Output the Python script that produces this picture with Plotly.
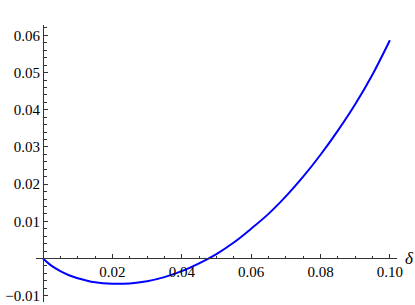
import plotly.graph_objects as go

# data
delta = [0, 0.0025, 0.005, 0.0075, 0.01, 0.015, 0.02, 0.025, 0.03, 0.035, 0.04, 0.045,
         0.05, 0.055, 0.06, 0.065, 0.07, 0.075, 0.08, 0.085, 0.09, 0.095, 0.1]
value = [0, -0.0020, -0.0034, -0.0045, -0.0053, -0.0064, -0.0068, -0.0067, -0.0061,
         -0.0050, -0.0034, -0.0013, 0.0012, 0.0043, 0.0080, 0.0120, 0.0167, 0.0220,
         0.0279, 0.0344, 0.0415, 0.0495, 0.0587]

x_tickvals = [0.02, 0.04, 0.06, 0.08, 0.10]
x_ticktext = ["0.02", "0.04", "0.06", "0.08", "0.10"]
y_tickvals = [-0.01, 0.01, 0.02, 0.03, 0.04, 0.05, 0.06]
y_ticktext = ["\u22120.01", "0.01", "0.02", "0.03", "0.04", "0.05", "0.06"]

x_range = [-0.00202, 0.10205]
y_range = [-0.0117, 0.0628]

serif = "Tinos"
font = dict(family=serif, size=15, color="#000000")

fig = go.Figure()
fig.add_trace(go.Scatter(x=delta, y=value, mode="lines", line_shape="spline",
                         line=dict(color="#0000ff", width=2), hoverinfo="skip"))

fig.update_layout(
    width=415, height=305,
    margin=dict(l=36, r=18, t=25, b=3),
    paper_bgcolor="white", plot_bgcolor="white",
    showlegend=False,
    xaxis=dict(range=x_range, anchor="free",
               position=(0 - y_range[0]) / (y_range[1] - y_range[0]),
               showgrid=False, zeroline=False, showline=True, linecolor="#333333",
               linewidth=1, tickmode="array", tickvals=x_tickvals, ticktext=x_ticktext,
               ticks="inside", ticklen=4, tickwidth=1, tickcolor="#333333",
               tickfont=font, automargin=False,
               minor=dict(tickmode="linear", tick0=0, dtick=0.005, ticks="inside",
                          ticklen=2.5, tickwidth=1, tickcolor="#333333", showgrid=False)),
    yaxis=dict(range=y_range, anchor="free",
               position=(0 - x_range[0]) / (x_range[1] - x_range[0]),
               showgrid=False, zeroline=False, showline=True, linecolor="#333333",
               linewidth=1, tickmode="array", tickvals=y_tickvals, ticktext=y_ticktext,
               ticks="inside", ticklen=4, tickwidth=1, tickcolor="#333333",
               tickfont=font, automargin=False,
               minor=dict(tickmode="linear", tick0=0, dtick=0.002, ticks="inside",
                          ticklen=2.5, tickwidth=1, tickcolor="#333333", showgrid=False)),
    annotations=[dict(text="<i>\u03b4</i>", xref="paper", x=1, yref="y", y=0,
                      xanchor="left", yanchor="middle", xshift=6, showarrow=False,
                      font=dict(family=serif, size=17, color="#000000"))],
)

fig.write_html("out.html", config={"displayModeBar": False},
               post_script="document.body.style.margin='0';document.body.style.padding='0';")
